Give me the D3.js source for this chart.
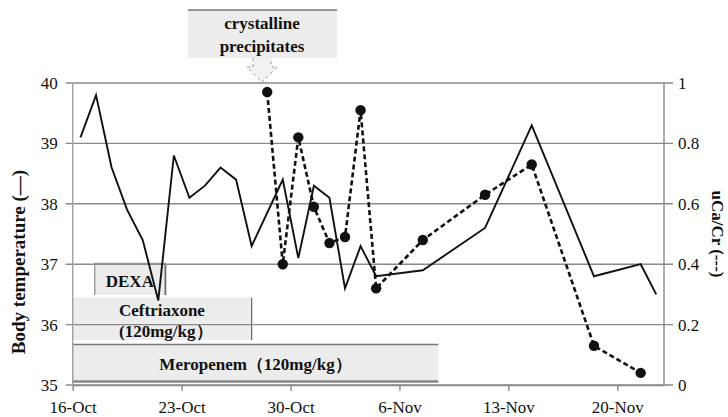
<!DOCTYPE html>
<html>
<head>
<meta charset="utf-8">
<script src="https://cdn.jsdelivr.net/npm/d3@7"></script>
<style>
  html, body { margin: 0; padding: 0; background: #fff; }
  svg { display: block; }
  svg text { font-family: "Liberation Serif", "DejaVu Serif", serif; fill: #111; }
</style>
</head>
<body>
<svg id="chart" width="728" height="417"></svg>
<script>
// Body temperature (°C), daily readings
const tempDates = ["2014-10-16","2014-10-17","2014-10-18","2014-10-19","2014-10-20","2014-10-21",
  "2014-10-22","2014-10-23","2014-10-24","2014-10-25","2014-10-26","2014-10-27","2014-10-29",
  "2014-10-30","2014-10-31","2014-11-01","2014-11-02","2014-11-03","2014-11-04","2014-11-07",
  "2014-11-11","2014-11-14","2014-11-18","2014-11-21","2014-11-22"];
const tempValues = [39.1, 39.8, 38.6, 37.9, 37.4, 36.4, 38.8, 38.1, 38.3, 38.6, 38.4, 37.3, 38.4,
  37.1, 38.3, 38.1, 36.6, 37.3, 36.8, 36.9, 37.6, 39.3, 36.8, 37.0, 36.5];

// Urinary calcium / creatinine ratio
const ratioDates = ["2014-10-28","2014-10-29","2014-10-30","2014-10-31","2014-11-01","2014-11-02",
  "2014-11-03","2014-11-04","2014-11-07","2014-11-11","2014-11-14","2014-11-18","2014-11-21"];
const ratioValues = [0.97, 0.40, 0.82, 0.59, 0.47, 0.49, 0.91, 0.32, 0.48, 0.63, 0.73, 0.13, 0.04];

// Treatment periods (start of first day, end of last day)
const treatNames = ["DEXA", "Ceftriaxone", "Meropenem（120mg/kg）"];
const treatStart = ["2014-10-17T10:00", "2014-10-16T00:00", "2014-10-16T00:00"];
const treatEnd   = ["2014-10-21T23:00", "2014-10-27T12:00", "2014-11-08T12:00"];

const xTickDates = ["2014-10-16","2014-10-23","2014-10-30","2014-11-06","2014-11-13","2014-11-20"];
const leftTicks = [35, 36, 37, 38, 39, 40];
const rightTicks = [0, 0.2, 0.4, 0.6, 0.8, 1];

const parse = s => new Date(s.length > 10 ? s + ":00Z" : s + "T00:00:00Z");
const mid = s => new Date(parse(s).getTime() + 12 * 3600 * 1000);

const svg = d3.select("#chart");
const m = { left: 72.7, right: 664, top: 83, bottom: 385 };
const FONT = '"Liberation Serif", "DejaVu Serif", serif';

const x = d3.scaleUtc()
  .domain([parse("2014-10-16"), parse("2014-11-23")])
  .range([m.left, m.right]);
const yT = d3.scaleLinear().domain([35, 40]).range([m.bottom, m.top]);
const yR = d3.scaleLinear().domain([0, 1]).range([m.bottom, m.top]);

const grey = "#8a8a8a";

// treatment bars (behind gridlines)
const tb = svg.append("g");
// DEXA
{
  const x0 = x(parse(treatStart[0])), x1 = x(parse(treatEnd[0]));
  tb.append("rect").attr("x", x0).attr("y", 263.5).attr("width", x1 - x0).attr("height", 31.5)
    .attr("fill", "#ececec");
  tb.append("path").attr("d", `M${x0},295 V263.5 H${x1} V295`).attr("fill", "none")
    .attr("stroke", "#a0a0a0").attr("stroke-width", 1.5);
  tb.append("line").attr("x1", x1).attr("x2", x1).attr("y1", 263.5).attr("y2", 295)
    .attr("stroke", "#666").attr("stroke-width", 1.5);
  tb.append("text").attr("x", x0 + 11).attr("y", 287).attr("font-size", 17)
    .attr("font-weight", "bold").text(treatNames[0]);
}
// Ceftriaxone
{
  const x0 = x(parse(treatStart[1])), x1 = x(parse(treatEnd[1]));
  tb.append("rect").attr("x", x0).attr("y", 297.5).attr("width", x1 - x0).attr("height", 42.5)
    .attr("fill", "#ececec");
  tb.append("line").attr("x1", x1).attr("x2", x1).attr("y1", 297.5).attr("y2", 340)
    .attr("stroke", "#666").attr("stroke-width", 1.2);
  const t = tb.append("text").attr("font-size", 17).attr("font-weight", "bold");
  t.append("tspan").attr("x", 119).attr("y", 316).text(treatNames[1]);
  t.append("tspan").attr("x", 119).attr("y", 337).text("(120mg/kg）");
}
// Meropenem
{
  const x0 = x(parse(treatStart[2])), x1 = x(parse(treatEnd[2]));
  tb.append("rect").attr("x", x0).attr("y", 344.5).attr("width", x1 - x0).attr("height", 37)
    .attr("fill", "#ececec");
  tb.append("line").attr("x1", x0).attr("x2", x1).attr("y1", 344.5).attr("y2", 344.5)
    .attr("stroke", "#777").attr("stroke-width", 1.5);
  tb.append("line").attr("x1", x0).attr("x2", x1).attr("y1", 381.5).attr("y2", 381.5)
    .attr("stroke", "#888").attr("stroke-width", 2.5);
  tb.append("text").attr("x", (x0 + x1) / 2).attr("y", 370).attr("font-size", 17)
    .attr("font-weight", "bold").attr("text-anchor", "middle").text(treatNames[2]);
}

// horizontal gridlines with ticks on both sides
const gridG = svg.append("g");
gridG.selectAll("line").data(leftTicks).join("line")
  .attr("x1", m.left - 7).attr("x2", m.right + 9)
  .attr("y1", d => yT(d)).attr("y2", d => yT(d))
  .attr("stroke", grey).attr("stroke-width", 1.4);

// axis lines
svg.append("line").attr("x1", m.left).attr("x2", m.left).attr("y1", m.top).attr("y2", m.bottom)
  .attr("stroke", "#a0a0a0").attr("stroke-width", 1.4);
svg.append("line").attr("x1", m.right).attr("x2", m.right).attr("y1", m.top).attr("y2", m.bottom)
  .attr("stroke", grey).attr("stroke-width", 1.4);

// x axis
const xAxis = d3.axisBottom(x)
  .tickValues(xTickDates.map(parse))
  .tickFormat(d3.utcFormat("%-d-%b"))
  .tickSizeInner(6).tickSizeOuter(0).tickPadding(10);
const xg = svg.append("g").attr("transform", `translate(0,${m.bottom})`).call(xAxis)
  .attr("font-family", FONT);
xg.select(".domain").attr("stroke", grey).attr("stroke-width", 1.4);
xg.selectAll(".tick line").attr("stroke", grey).attr("stroke-width", 1.4);
xg.selectAll(".tick text").attr("font-size", 17).attr("fill", "#111");

// left axis labels
const lAxis = d3.axisLeft(yT).tickValues(leftTicks).tickFormat(d3.format("d")).tickSize(0).tickPadding(15);
const lg = svg.append("g").attr("transform", `translate(${m.left},0)`).call(lAxis)
  .attr("font-family", FONT);
lg.select(".domain").remove();
lg.selectAll(".tick text").attr("font-size", 17).attr("fill", "#111");

// right axis labels
const rAxis = d3.axisRight(yR).tickValues(rightTicks).tickFormat(d3.format("~g")).tickSize(0).tickPadding(14);
const rg = svg.append("g").attr("transform", `translate(${m.right},0)`).call(rAxis)
  .attr("font-family", FONT);
rg.select(".domain").remove();
rg.selectAll(".tick text").attr("font-size", 17).attr("fill", "#111");

// axis titles
svg.append("text").attr("transform", "translate(25,262) rotate(-90)")
  .attr("text-anchor", "middle").attr("font-size", 19).attr("font-weight", "bold")
  .text("Body temperature (—)");
svg.append("text").attr("transform", "translate(712,234) rotate(90)")
  .attr("text-anchor", "middle").attr("font-size", 17).attr("font-weight", "bold")
  .text("uCa/Cr (---)");

// temperature line
const tempData = tempDates.map((d, i) => ({ d: mid(d), v: tempValues[i] }));
svg.append("path").datum(tempData)
  .attr("fill", "none").attr("stroke", "#111").attr("stroke-width", 1.9)
  .attr("d", d3.line().x(p => x(p.d)).y(p => yT(p.v)));

// uCa/Cr dashed line with markers
const ratioData = ratioDates.map((d, i) => ({ d: mid(d), v: ratioValues[i] }));
svg.append("path").datum(ratioData)
  .attr("fill", "none").attr("stroke", "#111").attr("stroke-width", 2.6)
  .attr("stroke-dasharray", "5,3")
  .attr("d", d3.line().x(p => x(p.d)).y(p => yR(p.v)));
svg.append("g").selectAll("circle").data(ratioData).join("circle")
  .attr("cx", p => x(p.d)).attr("cy", p => yR(p.v)).attr("r", 5.2).attr("fill", "#111");

// callout: crystalline precipitates
const cx = 262;
svg.append("rect").attr("x", 188).attr("y", 10).attr("width", 149).attr("height", 48)
  .attr("fill", "#ececec");
svg.append("line").attr("x1", 188).attr("x2", 337).attr("y1", 10).attr("y2", 10)
  .attr("stroke", "#777").attr("stroke-width", 1.5);
const ct = svg.append("text").attr("text-anchor", "middle").attr("font-size", 17).attr("font-weight", "bold");
ct.append("tspan").attr("x", cx).attr("y", 29).text("crystalline");
ct.append("tspan").attr("x", cx).attr("y", 52).text("precipitates");
svg.append("path")
  .attr("d", `M${cx - 9},58 V67 H${cx - 15} L${cx},82 L${cx + 15},67 H${cx + 9} V58`)
  .attr("fill", "#f2f2f2").attr("stroke", "#9a9a9a").attr("stroke-width", 1)
  .attr("stroke-dasharray", "3,3");
</script>
</body>
</html>
